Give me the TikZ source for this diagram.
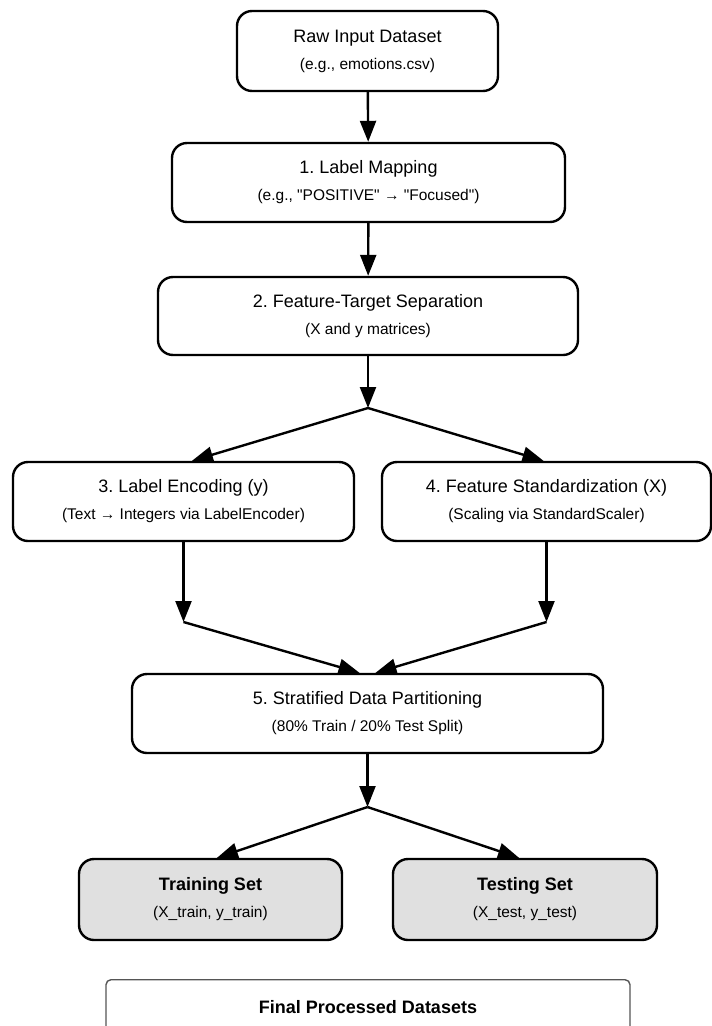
\documentclass[tikz,border=0pt]{standalone}
\usepackage{fontspec}
\setmainfont{Liberation Sans}
\usetikzlibrary{arrows.meta}
\definecolor{setgray}{HTML}{E0E0E0}
\definecolor{legendgray}{HTML}{555555}
\frenchspacing
\newcommand{\twolines}[2]{{\fontsize{18}{27}\selectfont #1}\\{#2}}

\begin{document}
\begin{tikzpicture}[x=1pt,y=-1pt,
  step_node/.style={rectangle,draw,rounded corners=15pt,line width=2.4pt,align=center,inner sep=0pt,font=\fontsize{15.5}{27}\selectfont,minimum height=79pt},
  set_node/.style={step_node,fill=setgray,minimum height=81pt},
  legend_node/.style={rectangle,draw=legendgray,line width=1.4pt,rounded corners=5pt,inner sep=0pt},
  flow_edge/.style={-{Triangle[length=21pt,width=16pt]},line width=2.4pt}]

     \useasboundingbox (0,0) rectangle (712,1026);
     \clip (0,0) rectangle (712,1026);

     \node[step_node,minimum width=261pt,minimum height=80pt] (raw) at (367.5,51) {\twolines{Raw Input Dataset}{(e.g., emotions.csv)}};
     \node[step_node,minimum width=393pt] (b1) at (368.5,182.5) {\twolines{1. Label Mapping}{(e.g., \textquotedbl POSITIVE\textquotedbl\ → \textquotedbl Focused\textquotedbl)}};
     \node[step_node,minimum width=420pt,minimum height=78pt] (b2) at (368,316) {\twolines{2. Feature-Target Separation}{(X and y matrices)}};
     \node[step_node,minimum width=341pt] (b3) at (183.5,501.5) {\twolines{3. Label Encoding (y)}{(Text → Integers via LabelEncoder)}};
     \node[step_node,minimum width=329pt] (b4) at (546.5,501.5) {\twolines{4. Feature Standardization (X)}{(Scaling via StandardScaler)}};
     \node[step_node,minimum width=471pt] (b5) at (367.5,713.5) {\twolines{5. Stratified Data Partitioning}{(80\% Train / 20\% Test Split)}};
     \node[set_node,minimum width=263pt] (train) at (210.5,899.5) {\twolines{\bfseries Training Set}{(X\_train, y\_train)}};
     \node[set_node,minimum width=264pt] (test) at (525,899.5) {\twolines{\bfseries Testing Set}{(X\_test, y\_test)}};
     \node[legend_node,minimum width=524pt,minimum height=80pt,anchor=north,
       label={[anchor=center,yshift=-28pt,font=\bfseries\fontsize{18}{18}\selectfont]north:Final Processed Datasets}] (final) at (368,979) {};

     \coordinate (j1) at (368,408);
     \coordinate (j3) at (183.5,622);
     \coordinate (j4) at (546.5,622);
     \coordinate (j2) at (367.5,807);

     \path[flow_edge]
     (raw) edge (b1)
     (b1) edge (b2)
     (b2) edge (j1)
     (j1) edge ([xshift=8.5pt]b3.north)
     (j1) edge ([xshift=-3pt]b4.north)
     (b3) edge (j3)
     (b4) edge (j4)
     (j3) edge ([xshift=-8pt]b5.north)
     (j4) edge ([xshift=8pt]b5.north)
     (b5) edge (j2)
     (j2) edge ([xshift=6.5pt]train.north)
     (j2) edge ([xshift=-6pt]test.north)
     ;
\end{tikzpicture}
\end{document}
